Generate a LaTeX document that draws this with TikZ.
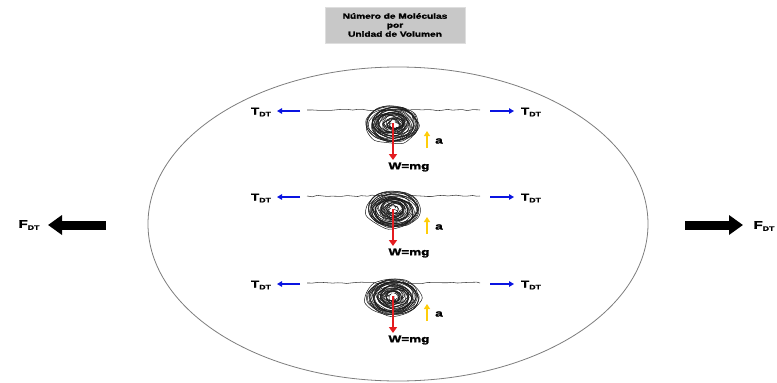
\documentclass[tikz,border=0pt]{standalone}
\usepackage{graphicx}
\usepackage{fontspec}
\setmainfont[BoldFeatures={FakeBold=1.6}]{Liberation Sans}
\usetikzlibrary{arrows.meta,shapes.geometric,decorations.pathmorphing}
\definecolor{tblue}{RGB}{10,20,225}
\definecolor{wred}{RGB}{228,28,32}
\definecolor{ayellow}{RGB}{255,205,10}
\definecolor{boxgray}{RGB}{200,200,200}
\definecolor{rimgray}{RGB}{125,125,125}
% labels are set a little wider than the font's natural width
\newcommand\wideText[1]{\scalebox{1.35}[1]{#1}}
\newcommand\lowsub[1]{\raisebox{-0.35ex}{\fontsize{6.5}{6.5}\selectfont #1}}
\begin{document}
\begin{tikzpicture}[x=1pt,y=-1pt,
  lbl/.style={font=\bfseries\fontsize{10}{10}\selectfont, inner sep=0},
  pullarrow/.style={draw=tblue, line width=1.4pt, -{Triangle[length=5pt,width=5.5pt]}},
  weightarrow/.style={draw=wred, line width=2.8pt, -{Triangle[length=6pt,width=8pt]}},
  accelarrow/.style={draw=ayellow, line width=1.8pt, -{Triangle[length=5pt,width=6pt]}},
  bigarrow/.style={draw=black, line width=9pt, -{Triangle[length=14pt,width=19pt]}},
  fibre/.style={draw=black!75, line width=0.55pt, decorate,
    decoration={random steps, segment length=5pt, amplitude=0.9pt}},
  scribble/.style={draw=black!90, line width=0.5pt}]
\useasboundingbox (0,0) rectangle (777,383);
\pgfmathsetseed{11}

% heading
\node[fill=boxgray, draw=boxgray!60, minimum width=140pt, minimum height=36pt,
      align=center, inner sep=0, font=\bfseries\fontsize{7.5}{9}\selectfont]
  (title) at (395,25) {\wideText{Número de Moléculas}\\ \wideText{por}\\ \wideText{Unidad de Volumen}};

% the drop
\node[ellipse, draw=rimgray, line width=0.8pt, minimum width=500pt,
      minimum height=314pt, inner sep=0] (drop) at (398,224) {};

% three molecules hanging on their fibres
\foreach \r/\s in {1/110,2/196,3/283} {
  \coordinate (ls\r) at (307,\s);
  \coordinate (rs\r) at (480,\s);
  \draw[fibre] (ls\r) -- (rs\r);
  \coordinate (ball\r) at (393,\s+14);
  \foreach \k in {1,...,34} {
    \pgfmathsetmacro\rx{4+\k*0.66}
    \pgfmathsetmacro\ry{3+\k*0.45}
    \pgfmathsetmacro\cx{rand*2.5}
    \pgfmathsetmacro\cy{rand*2.0}
    \draw[scribble, shift={(ball\r)}]
      plot[smooth cycle, samples=11, domain=0:327]
      ({\cx+(\rx+rand*1.8)*cos(\x)}, {\cy+(\ry+rand*1.5)*sin(\x)});
  }
  \fill[white] (393,\s+12) circle (2pt);
  % weight
  \coordinate (wtop\r) at (393,\s+13);
  \coordinate (wtip\r) at (393,\s+50);
  \draw[weightarrow] (wtop\r) -- (wtip\r);
  \node[lbl] (w\r) at (409,\s+57) {\wideText{W=mg}};
  % acceleration
  \coordinate (abot\r) at (427,\s+38);
  \coordinate (atip\r) at (427,\s+21);
  \draw[accelarrow] (abot\r) -- (atip\r);
  \node[lbl] (a\r) at (439,\s+31) {\wideText{a}};
  % tensions
  \node[lbl] (tl\r) at (261,\s+2) {\wideText{T\lowsub{DT}}};
  \node[lbl] (tr\r) at (531,\s+2) {\wideText{T\lowsub{DT}}};
  \coordinate (tlb\r) at (300,\s+1);
  \coordinate (tlt\r) at (277,\s+1);
  \coordinate (trb\r) at (490,\s+1);
  \coordinate (trt\r) at (514,\s+1);
  \draw[pullarrow] (tlb\r) -- (tlt\r);
  \draw[pullarrow] (trb\r) -- (trt\r);
}

% resultant forces on the drop
\coordinate (fltail) at (106,225);
\coordinate (fltip) at (48,225);
\coordinate (frtail) at (685,225);
\coordinate (frtip) at (743,225);
\draw[bigarrow] (fltail) -- (fltip);
\draw[bigarrow] (frtail) -- (frtip);
\node[lbl, font=\bfseries\fontsize{11}{11}\selectfont] (fl) at (29,225) {\wideText{F\lowsub{DT}}};
\node[lbl, font=\bfseries\fontsize{11}{11}\selectfont] (fr) at (764,226) {\wideText{F\lowsub{DT}}};
\end{tikzpicture}
\end{document}
